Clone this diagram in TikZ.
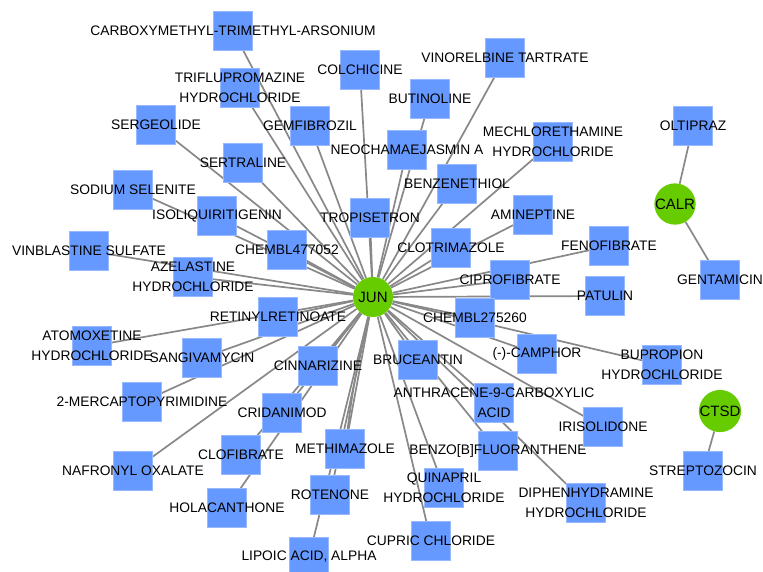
\documentclass[tikz,border=0pt]{standalone}
\usepackage{fontspec}
\setmainfont{Liberation Sans}
\usetikzlibrary{shapes}

\pgfdeclarelayer{bg}
\pgfsetlayers{bg,main}

\definecolor{drugblue}{RGB}{102,153,255}
\definecolor{drugrim}{RGB}{150,185,255}
\definecolor{genegreen}{RGB}{102,204,0}
\definecolor{edgegray}{RGB}{136,136,136}

\tikzset{
  drug/.style={rectangle, fill=drugblue, draw=drugrim, line width=0.6pt, minimum size=39pt, inner sep=0pt},
  gene/.style={circle, fill=genegreen, minimum size=40pt, inner sep=0pt, font=\fontsize{15}{17}\selectfont},
  lbl/.style={align=center, inner sep=0pt, font=\fontsize{13.8}{20}\selectfont},
  edge/.style={draw=edgegray, line width=1.7pt},
}

\begin{document}
\begin{tikzpicture}[x=1pt, y=-1pt]
\useasboundingbox (0,0) rectangle (763,571);
% genes
\node[gene] (jun) at (373,297) {JUN};
\node[gene] (calr) at (675,204) {CALR};
\node[gene] (ctsd) at (720,411) {CTSD};
% drugs linked to JUN
\foreach \n/\x/\y/\t in {
  carboxy/233/31/{CARBOXYMETHYL-TRIMETHYL-ARSONIUM},
  triflu/240/88/{TRIFLUPROMAZINE\\HYDROCHLORIDE},
  sergeo/156/125/{SERGEOLIDE},
  sertra/243/163/{SERTRALINE},
  sodium/133/190/{SODIUM SELENITE},
  isoliq/217/216/{ISOLIQUIRITIGENIN},
  vinbla/89/251/{VINBLASTINE SULFATE},
  azela/193/277/{AZELASTINE\\HYDROCHLORIDE},
  atomox/92/346/{ATOMOXETINE\\HYDROCHLORIDE},
  sangiv/202/358/{SANGIVAMYCIN},
  retiny/278/317/{RETINYLRETINOATE},
  chembla/287/250/{CHEMBL477052},
  tropis/370/218/{TROPISETRON},
  clotri/451/248/{CLOTRIMAZOLE},
  cipro/510/280/{CIPROFIBRATE},
  chemblb/475/318/{CHEMBL275260},
  brucea/418/360/{BRUCEANTIN},
  cinnar/318/366/{CINNARIZINE},
  aminep/533/215/{AMINEPTINE},
  fenofi/609/246/{FENOFIBRATE},
  patulin/605/296/{PATULIN},
  camphor/537/354/{(-)-CAMPHOR},
  bupro/662/365/{BUPROPION\\HYDROCHLORIDE},
  mechlo/553/142/{MECHLORETHAMINE\\HYDROCHLORIDE},
  vinore/505/58/{VINORELBINE TARTRATE},
  colchi/360/70/{COLCHICINE},
  butino/430/99/{BUTINOLINE},
  gemfib/310/126/{GEMFIBROZIL},
  neocha/407/150/{NEOCHAMAEJASMIN A},
  benzen/457/184/{BENZENETHIOL},
  mercap/142/402/{2-MERCAPTOPYRIMIDINE},
  nafron/133/471/{NAFRONYL OXALATE},
  clofib/241/455/{CLOFIBRATE},
  holaca/227/508/{HOLACANTHONE},
  cridan/282/413/{CRIDANIMOD},
  methim/345/449/{METHIMAZOLE},
  rotenone/330/495/{ROTENONE},
  lipoic/309/557/{LIPOIC ACID, ALPHA},
  quinap/444/488/{QUINAPRIL\\HYDROCHLORIDE},
  cupric/431/541/{CUPRIC CHLORIDE},
  benzob/498/451/{BENZO[B]FLUORANTHENE},
  anthra/494/403/{ANTHRACENE-9-CARBOXYLIC\\ACID},
  iriso/603/427/{IRISOLIDONE},
  diphen/586/503/{DIPHENHYDRAMINE\\HYDROCHLORIDE}%
}{
  \node[drug, label={[lbl]center:\t}] (\n) at (\x,\y) {};
}
% drugs on the small genes
\node[drug, label={[lbl]center:OLTIPRAZ}] (oltipraz) at (693,126) {};
\node[drug, label={[lbl]center:GENTAMICIN}] (gentam) at (720,280) {};
\node[drug, label={[lbl]center:STREPTOZOCIN}] (strepto) at (703,471) {};

\begin{pgfonlayer}{bg}
\fill[white] (0,0) rectangle (763,571);
\foreach \n in {carboxy, triflu, sergeo, sertra, sodium, isoliq, vinbla, azela,
  atomox, sangiv, retiny, chembla, tropis, clotri, cipro, chemblb, brucea, cinnar,
  aminep, fenofi, patulin, camphor, bupro, mechlo, vinore, colchi, butino, gemfib,
  neocha, benzen, mercap, nafron, clofib, holaca, cridan, methim, rotenone, lipoic,
  quinap, cupric, benzob, anthra, iriso, diphen} {
  \draw[edge] (jun) -- (\n);
}
\draw[edge] (jun) to[bend right=3] (methim);
\draw[edge] (calr) -- (oltipraz);
\draw[edge] (calr) -- (gentam);
\draw[edge] (ctsd) -- (strepto);
\end{pgfonlayer}
\end{tikzpicture}
\end{document}
